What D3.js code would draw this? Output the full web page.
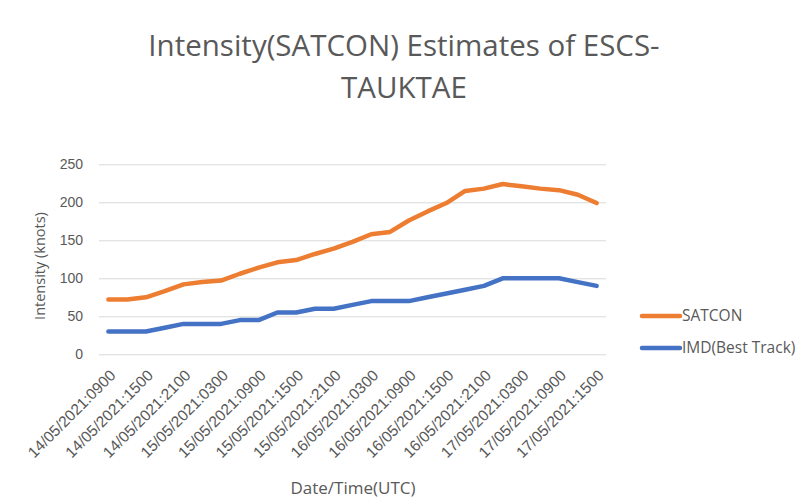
<!DOCTYPE html>
<meta charset="utf-8">
<head>
<style>
body { margin: 0; background: #fff; }
svg { display: block; font-family: "Open Sans", sans-serif; }
.grid line { stroke: #d9d9d9; stroke-width: 1; }
.tick text, .axis-title, .legend text { fill: #595959; }
.line { fill: none; stroke-width: 4.5; stroke-linejoin: round; stroke-linecap: round; }
</style>
</head>
<body>
<svg width="807" height="504"></svg>
<script src="https://d3js.org/d3.v7.min.js"></script>
<script>

// 3-hourly times, 14/05/2021 0900 .. 17/05/2021 1500
var times = [
  "14/05/2021:0900", "14/05/2021:1200", "14/05/2021:1500", "14/05/2021:1800",
  "14/05/2021:2100", "15/05/2021:0000", "15/05/2021:0300", "15/05/2021:0600",
  "15/05/2021:0900", "15/05/2021:1200", "15/05/2021:1500", "15/05/2021:1800",
  "15/05/2021:2100", "16/05/2021:0000", "16/05/2021:0300", "16/05/2021:0600",
  "16/05/2021:0900", "16/05/2021:1200", "16/05/2021:1500", "16/05/2021:1800",
  "16/05/2021:2100", "17/05/2021:0000", "17/05/2021:0300", "17/05/2021:0600",
  "17/05/2021:0900", "17/05/2021:1200", "17/05/2021:1500"
];

var satcon = [72, 72, 75, 83, 92, 95, 97, 106, 114, 121, 124, 132, 139, 148,
              158, 161, 176, 188, 199, 215, 218, 224, 221, 218, 216, 210, 199];

var imd = [30, 30, 30, 35, 40, 40, 40, 45, 45, 55, 55, 60, 60, 65,
           70, 70, 70, 75, 80, 85, 90, 100, 100, 100, 100, 95, 90];

var yTicks = [0, 50, 100, 150, 200, 250];

var series = [
  {name: "SATCON", values: satcon, color: "#ed7d31"},
  {name: "IMD(Best Track)", values: imd, color: "#4472c4"}
];

var svg = d3.select("svg"),
    plotLeft = 99, plotRight = 606, plotTop = 164.3, plotBottom = 354.3;

var x = d3.scaleBand().domain(times).range([plotLeft, plotRight]);
var y = d3.scaleLinear().domain([0, 250]).range([plotBottom, plotTop]);

// title
var title = svg.append("text")
    .attr("class", "axis-title")
    .attr("text-anchor", "middle")
    .style("font-size", "29.5px");
title.append("tspan").attr("x", 404).attr("y", 56).text("Intensity(SATCON) Estimates of ESCS-");
title.append("tspan").attr("x", 404).attr("y", 98).text("TAUKTAE");

// gridlines + y labels
svg.append("g")
    .attr("class", "grid")
    .attr("transform", "translate(" + plotLeft + ",0)")
    .call(d3.axisLeft(y).tickValues(yTicks).tickSize(-(plotRight - plotLeft)).tickPadding(16))
    .call(function(g) { g.select(".domain").remove(); })
    .selectAll("text").style("font-size", "14px");

// x labels, every other category
svg.append("g")
    .attr("transform", "translate(0," + plotBottom + ")")
    .call(d3.axisBottom(x).tickSize(0).tickValues(times.filter(function(d, i) { return i % 2 === 0; })))
    .call(function(g) { g.select(".domain").remove(); })
    .selectAll("text")
      .style("font-size", "15.5px")
      .attr("text-anchor", "end")
      .attr("dy", null)
      .attr("transform", "translate(6,20) rotate(-45)");

var line = d3.line()
    .x(function(d, i) { return x(times[i]) + x.bandwidth() / 2; })
    .y(function(d) { return y(d); });

svg.selectAll(".line")
  .data(series)
  .enter().append("path")
    .attr("class", "line")
    .attr("stroke", function(d) { return d.color; })
    .attr("d", function(d) { return line(d.values); });

// axis titles
svg.append("text")
    .attr("class", "axis-title")
    .attr("text-anchor", "middle")
    .attr("transform", "translate(45,266) rotate(-90)")
    .style("font-size", "14.5px")
    .text("Intensity (knots)");

svg.append("text")
    .attr("class", "axis-title")
    .attr("text-anchor", "middle")
    .attr("x", 353)
    .attr("y", 494)
    .style("font-size", "17px")
    .text("Date/Time(UTC)");

// legend
var legend = svg.selectAll(".legend")
  .data(series)
  .enter().append("g")
    .attr("class", "legend")
    .attr("transform", function(d, i) { return "translate(640," + (316 + i * 32) + ")"; });

legend.append("line")
    .attr("x1", 2).attr("x2", 40)
    .attr("stroke", function(d) { return d.color; })
    .attr("stroke-width", 4.5)
    .attr("stroke-linecap", "round");

legend.append("text")
    .attr("x", 42)
    .attr("dy", "0.35em")
    .style("font-size", "15.5px")
    .text(function(d) { return d.name; });

</script>
</body>
</html>
